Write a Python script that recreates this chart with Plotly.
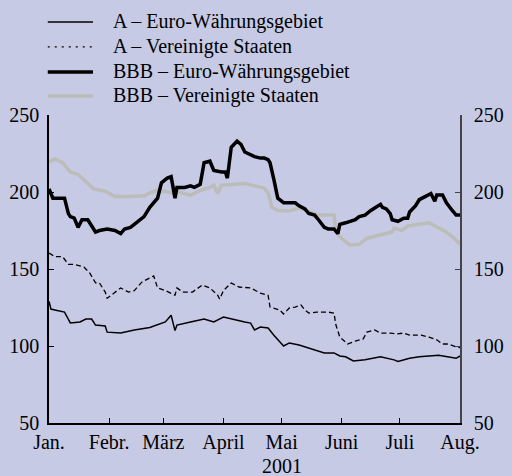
import plotly.graph_objects as go

# ---- data ----
bbb_eu_dates = ["2001-01-01","2001-01-03","2001-01-09","2001-01-11","2001-01-12","2001-01-14","2001-01-16",
    "2001-01-18","2001-01-21","2001-01-25","2001-01-27","2001-01-31","2001-02-04","2001-02-07","2001-02-09",
    "2001-02-12","2001-02-14","2001-02-17","2001-02-19","2001-02-22","2001-02-26","2001-02-28","2001-03-03",
    "2001-03-05","2001-03-06","2001-03-07","2001-03-08","2001-03-12","2001-03-15","2001-03-17","2001-03-20",
    "2001-03-22","2001-03-25","2001-03-27","2001-03-31","2001-04-02","2001-04-03","2001-04-05","2001-04-08",
    "2001-04-10","2001-04-12","2001-04-15","2001-04-17","2001-04-20","2001-04-22","2001-04-24","2001-04-25",
    "2001-04-27","2001-04-29","2001-05-01","2001-05-02","2001-05-05","2001-05-08","2001-05-10","2001-05-13",
    "2001-05-15","2001-05-18","2001-05-20","2001-05-23","2001-05-25","2001-05-28","2001-05-30","2001-05-31",
    "2001-06-03","2001-06-05","2001-06-08","2001-06-10","2001-06-13","2001-06-16","2001-06-21","2001-06-22",
    "2001-06-24","2001-06-26","2001-06-27","2001-06-30","2001-07-03","2001-07-05","2001-07-06","2001-07-09",
    "2001-07-11","2001-07-14","2001-07-17","2001-07-19","2001-07-20","2001-07-23","2001-07-25","2001-07-28",
    "2001-07-30","2001-08-01"]
bbb_eu_values = [202,196,196,186,184,183,177,182,182,174,175,176,175,173,176,177,179,182,184,190,196,206,209,
    210,204,196,203,203,204,203,205,219,220,214,213,213,209,229,233,231,226,224,223,222,222,221,219,208,196,194,
    193,193,193,191,189,186,185,182,177,176,176,173,179,180,181,182,184,185,188,192,190,189,186,182,181,183,183,
    187,191,195,197,199,194,198,198,193,188,185,185]

bbb_us_dates = ["2001-01-01","2001-01-04","2001-01-08","2001-01-12","2001-01-16","2001-01-20","2001-01-24",
    "2001-01-30","2001-02-04","2001-02-12","2001-02-19","2001-02-25","2001-03-02","2001-03-07","2001-03-09",
    "2001-03-15","2001-03-20","2001-03-25","2001-03-27","2001-03-29","2001-03-31","2001-04-07","2001-04-12",
    "2001-04-17","2001-04-22","2001-04-24","2001-04-26","2001-04-29","2001-05-05","2001-05-10","2001-05-14",
    "2001-05-18","2001-05-20","2001-05-28","2001-05-29","2001-05-31","2001-06-05","2001-06-10","2001-06-14",
    "2001-06-21","2001-06-27","2001-06-28","2001-07-02","2001-07-05","2001-07-11","2001-07-16","2001-07-21",
    "2001-07-25","2001-07-29","2001-08-01"]
bbb_us_values = [219.5,221.5,219,213,211.5,206.5,202,200.5,197,197,197.5,201,200.5,198.7,200,198,201,203,204.5,
    199,204.5,205,205.5,204,202.5,199.5,190,188,187.7,189.6,188,186,185,185,175,171,165.6,166,170,172,174,176.6,
    175,178,179,180,176.6,174,170,166]

a_eu_dates = ["2001-01-01","2001-01-02","2001-01-04","2001-01-09","2001-01-12","2001-01-17","2001-01-20",
    "2001-01-23","2001-01-25","2001-01-30","2001-01-31","2001-02-07","2001-02-14","2001-02-22","2001-03-02",
    "2001-03-05","2001-03-07","2001-03-08","2001-03-15","2001-03-22","2001-03-27","2001-04-01","2001-04-12",
    "2001-04-15","2001-04-17","2001-04-20","2001-04-24","2001-04-27","2001-05-02","2001-05-05","2001-05-10",
    "2001-05-15","2001-05-23","2001-05-28","2001-05-31","2001-06-03","2001-06-07","2001-06-13","2001-06-21",
    "2001-06-28","2001-06-30","2001-07-06","2001-07-11","2001-07-21","2001-07-26","2001-07-30","2001-08-01"]
a_eu_values = [129,124,123.4,122,115,115.6,117.5,117.5,113.6,113,109,108.4,110.4,112,115.6,120,110,113.6,115.6,
    117.5,115.6,118.8,115.6,114.9,110.4,112.3,111.7,107,100,102,100.6,98.7,95.5,95.5,93.5,93,90.3,91,93,91,90,
    92,93,94,93,92,93.5]

a_us_dates = ["2001-01-01","2001-01-04","2001-01-08","2001-01-11","2001-01-14","2001-01-19","2001-01-22",
    "2001-01-25","2001-01-27","2001-01-30","2001-01-31","2001-02-04","2001-02-07","2001-02-11","2001-02-14",
    "2001-02-18","2001-02-24","2001-02-26","2001-03-02","2001-03-07","2001-03-08","2001-03-11","2001-03-16",
    "2001-03-21","2001-03-25","2001-03-29","2001-03-30","2001-04-01","2001-04-05","2001-04-09","2001-04-15",
    "2001-04-20","2001-04-24","2001-04-25","2001-04-30","2001-05-02","2001-05-05","2001-05-08","2001-05-11",
    "2001-05-13","2001-05-15","2001-05-19","2001-05-25","2001-05-28","2001-05-29","2001-05-31","2001-06-04",
    "2001-06-08","2001-06-12","2001-06-14","2001-06-18","2001-06-21","2001-06-26","2001-06-29","2001-07-03",
    "2001-07-06","2001-07-12","2001-07-16","2001-07-20","2001-07-23","2001-07-26","2001-07-30","2001-08-01"]
a_us_values = [160.4,158,158,153,153,151.3,147.4,141,141,135,131,135,137.7,135,136,141.6,145.5,137.7,136,133,
    137.7,135,135,139.6,137.7,133,130.5,136,140.9,138.3,137.7,134.4,133,125.3,123.4,120.8,124.7,125.3,126.6,
    123.4,121.4,122,122,121.4,113.6,105.8,101.3,103.2,104.5,109,110.4,108.4,108.4,107.8,108.4,107,107,105.8,
    104,101.3,101.3,99.4,99]

series_names = ["A \u2013 Euro-W\u00e4hrungsgebiet", "A \u2013 Vereinigte Staaten",
                "BBB \u2013 Euro-W\u00e4hrungsgebiet", "BBB \u2013 Vereinigte Staaten"]
month_ticks = ["2001-01-01","2001-02-01","2001-03-01","2001-04-01","2001-05-01",
               "2001-06-01","2001-07-01","2001-08-01"]
month_labels = ["Jan.", "Febr.", "M\u00e4rz", "April", "Mai", "Juni", "Juli", "Aug."]
y_ticks = [50, 100, 150, 200, 250]
year_label = "2001"

BG = "#c6cae5"
GRAY = "#bcbdb8"
FONT = "Liberation Serif, Times New Roman, serif"

styles = [dict(color="black", width=1.5),
          dict(color="black", width=1.3, dash="5px,3px"),
          dict(color="black", width=3.5),
          dict(color=GRAY, width=3.5)]
legend_dash = [None, "2px,5px", None, None]

fig = go.Figure()
# A - Euro area is drawn against the (identical) right-hand axis so that axis is rendered
fig.add_trace(go.Scatter(x=a_eu_dates, y=a_eu_values, mode="lines", name=series_names[0],
                         line=styles[0], showlegend=False, yaxis="y2"))
fig.add_trace(go.Scatter(x=a_us_dates, y=a_us_values, mode="lines", name=series_names[1],
                         line=styles[1], showlegend=False))
fig.add_trace(go.Scatter(x=bbb_us_dates, y=bbb_us_values, mode="lines", name=series_names[3],
                         line=styles[3], showlegend=False))
fig.add_trace(go.Scatter(x=bbb_eu_dates, y=bbb_eu_values, mode="lines", name=series_names[2],
                         line=styles[2], showlegend=False))

# hand-placed legend (paper coordinates above the plot area)
legend_rows_y = [1.302, 1.221, 1.140, 1.062]
shapes = []
annotations = []
for i, name in enumerate(series_names):
    ln = dict(color=styles[i]["color"], width=styles[i]["width"])
    if legend_dash[i]:
        ln["dash"] = legend_dash[i]
    shapes.append(dict(type="line", xref="paper", yref="paper", x0=-0.003, x1=0.107,
                       y0=legend_rows_y[i], y1=legend_rows_y[i], line=ln))
    annotations.append(dict(text=name, xref="paper", yref="paper", x=0.150, y=legend_rows_y[i],
                            xanchor="left", yanchor="middle", showarrow=False,
                            font=dict(family=FONT, size=20, color="black")))
annotations.append(dict(text=year_label, x="2001-05-01", xref="x", y=-0.138, yref="paper",
                        showarrow=False, xanchor="center", yanchor="middle",
                        font=dict(family=FONT, size=20, color="black")))

fig.update_layout(
    width=512, height=476,
    paper_bgcolor=BG, plot_bgcolor=BG,
    margin=dict(l=49, r=52, t=115, b=53, autoexpand=False),
    font=dict(family=FONT, size=20, color="black"),
    showlegend=False,
    xaxis=dict(type="date", range=["2001-01-01", "2001-08-01"],
               tickvals=month_ticks, ticktext=month_labels, tickangle=0,
               ticks="inside", ticklen=5, tickcolor="black",
               showline=True, linecolor="black", linewidth=1.5,
               showgrid=False, zeroline=False, tickfont=dict(size=20)),
    yaxis=dict(range=[50, 250], tickvals=y_ticks, ticks="inside", ticklen=5,
               showline=True, linecolor="black", linewidth=1.5, tickcolor="black",
               showgrid=False, zeroline=False, ticklabelstandoff=4),
    yaxis2=dict(range=[50, 250], tickvals=y_ticks, ticks="inside", ticklen=5,
                overlaying="y", side="right", anchor="x",
                showline=True, linecolor="#444444", linewidth=1.5, tickcolor="#444444",
                showgrid=False, zeroline=False, ticklabelstandoff=8),
    shapes=shapes,
    annotations=annotations,
)

fig.write_html("out.html", config={"displayModeBar": False},
               post_script="document.body.style.margin='0';document.body.style.background='%s';" % BG)
